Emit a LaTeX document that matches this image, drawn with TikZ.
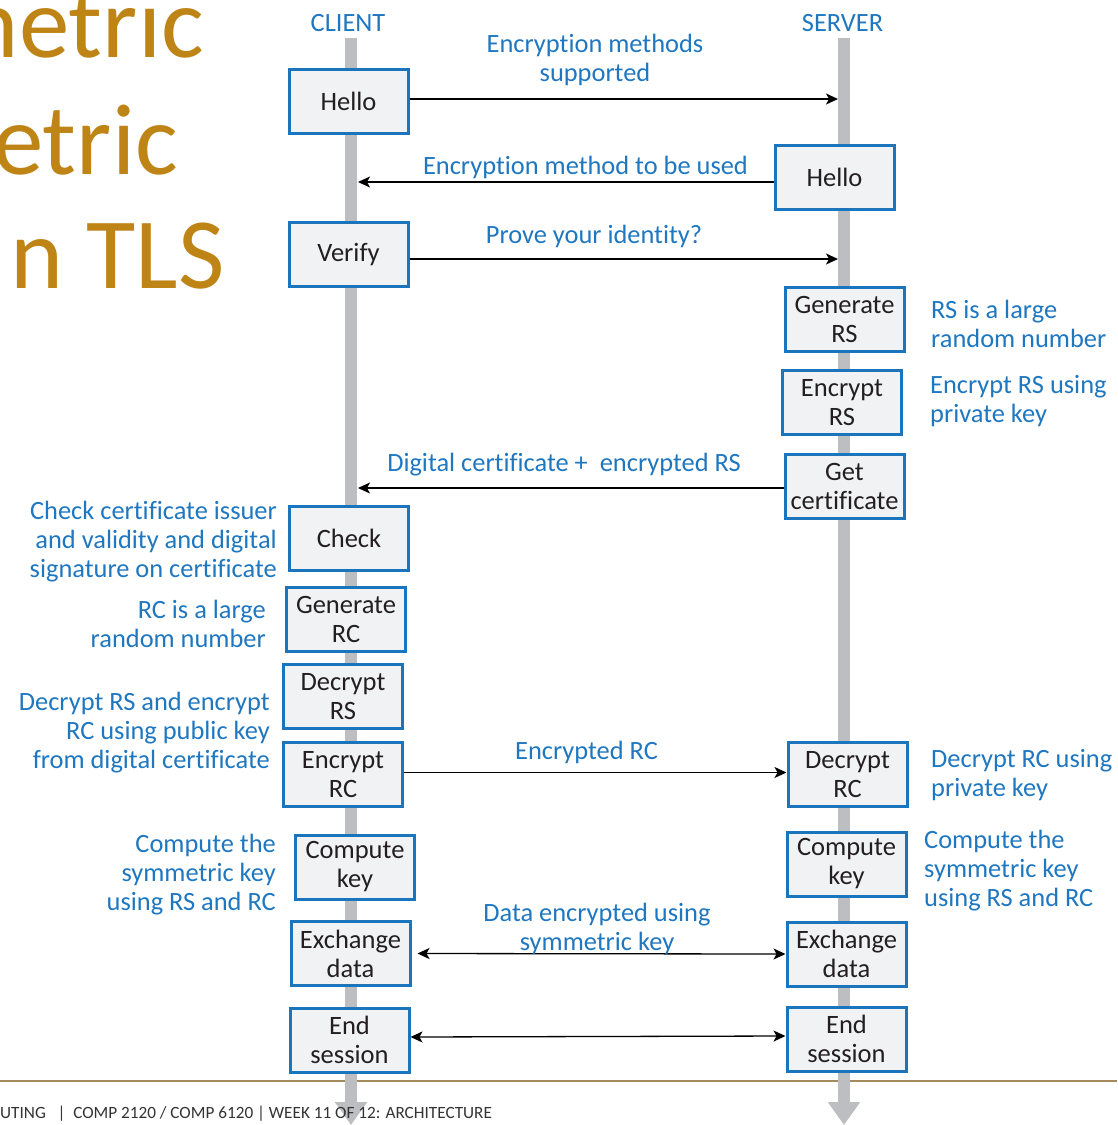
\documentclass[tikz,border=0pt]{standalone}
\usepackage{fontspec}
\setmainfont{Carlito}[Ligatures=CommonOff]
\usetikzlibrary{arrows.meta}
\definecolor{boxblue}{HTML}{1B75BC}
\definecolor{boxfill}{HTML}{F1F2F4}
\definecolor{labelblue}{HTML}{1F77C0}
\definecolor{titlegold}{HTML}{BF8416}
\definecolor{lifegray}{HTML}{BDBEC1}
\definecolor{rulebrown}{HTML}{A58A5C}
\definecolor{inkdark}{HTML}{231F20}
\definecolor{footgray}{HTML}{333333}

\begin{document}
\begin{tikzpicture}[x=1pt,y=-1pt,
  stepbox/.style={draw=boxblue, line width=3pt, fill=boxfill,
    minimum width=119pt, minimum height=64pt, inner sep=0pt,
    align=center, text=inkdark, font=\fontsize{26.5}{29}\selectfont},
  msg/.style={text=labelblue, font=\fontsize{26.4}{29}\selectfont,
    align=center, inner sep=0pt},
  notel/.style={msg, align=left, anchor=west},
  noter/.style={msg, align=right, anchor=east},
  flow/.style={line width=1.3pt, -{Stealth[length=12pt,width=11pt,inset=3pt]}},
  flowboth/.style={line width=1.3pt,
    {Stealth[length=12pt,width=11pt,inset=3pt]}-{Stealth[length=12pt,width=11pt,inset=3pt]}},
  lifeline/.style={draw=lifegray, line width=12pt,
    -{Triangle[length=23pt,width=31pt]}},
  heading/.style={text=titlegold, font=\fontsize{101}{116}\selectfont,
    inner sep=0pt, anchor=base east},
]
\useasboundingbox (0,0) rectangle (1117,1125);

% slide heading, running off the left edge
\node[heading] (h1) at (204,57) {metric};
\node[heading] (h2) at (178,174) {etric};
\node[heading] (h3) at (225,288) {n TLS};

% footer rule
\coordinate (ruleL) at (0,1081);
\coordinate (ruleR) at (1117,1081);
\draw[rulebrown, line width=2pt] (ruleL) -- (ruleR);

% lifelines
\node[msg] (client) at (348,23) {CLIENT};
\node[msg] (server) at (842.5,23) {SERVER};
\coordinate (ctop) at (351,38);
\coordinate (cbot) at (351,1125);
\coordinate (stop) at (844,38);
\coordinate (sbot) at (844,1125);
\draw[lifeline] (ctop) -- (cbot);
\draw[lifeline] (stop) -- (sbot);

% footer text, set over the lifeline tips
\node[anchor=base west, inner sep=0pt, text=footgray,
  font=\fontsize{17.2}{20}\selectfont] (foot) at (0,1118)
  {UTING \ \ |\ \ COMP 2120 / COMP 6120 | WEEK 11 OF 12: ARCHITECTURE};

% client steps
\node[stepbox] (chello) at (348.5,101) {Hello};
\node[stepbox] (verify) at (348.5,254.5) {Verify};
\node[stepbox] (check) at (349,538.5) {Check};
\node[stepbox] (genrc) at (346,619.5) {Generate\\RC};
\node[stepbox] (decrs) at (343,696.5) {Decrypt\\RS};
\node[stepbox] (encrc) at (343,774.5) {Encrypt\\RC};
\node[stepbox] (ckeyc) at (355,867) {Compute\\key};
\node[stepbox] (exc) at (350.5,953.5) {Exchange\\data};
\node[stepbox] (endc) at (349.5,1040) {End\\session};

% server steps
\node[stepbox] (shello) at (834.5,177) {Hello};
\node[stepbox] (genrs) at (844.5,319) {Generate\\RS};
\node[stepbox] (encrs) at (842,402.5) {Encrypt\\RS};
\node[stepbox] (getcert) at (844.5,486.5) {Get\\certificate};
\node[stepbox] (decrc) at (847.5,774.5) {Decrypt\\RC};
\node[stepbox] (ckeys) at (846.5,864) {Compute\\key};
\node[stepbox] (exs) at (846.5,954) {Exchange\\data};
\node[stepbox] (ends) at (846.5,1039) {End\\session};

% messages
\coordinate (s1) at (838,99);
\draw[flow] (chello.east |- s1) -- (s1);
\coordinate (c2) at (358,182);
\draw[flow] (shello.west |- c2) -- (c2);
\coordinate (s3) at (838,259);
\draw[flow] (verify.east |- s3) -- (s3);
\coordinate (c4) at (358,488);
\draw[flow] (getcert.west |- c4) -- (c4);
\draw[flow] ([yshift=2pt]encrc.east) -- ([yshift=2pt]decrc.west);
\draw[flowboth, shorten <=6pt] (exc.east) -- (exs.west);
\draw[flowboth] ([yshift=3pt]endc.east) -- ([yshift=3pt]ends.west);

% message labels
\node[msg] (m1) at (595,60) {Encryption methods\\supported};
\node[msg] (m2) at (585.5,167) {Encryption method to be used};
\node[msg] (m3) at (594,236) {Prove your identity?};
\node[msg] (m4) at (564,465) {Digital certificate + \ encrypted RS};
\node[msg] (m5) at (586.5,752) {Encrypted RC};
\node[msg] (m6) at (597,928.5) {Data encrypted using\\symmetric key};

% side notes
\node[notel] (n1) at (931,324) {RS is a large\\random number};
\node[notel] (n2) at (930,401.5) {Encrypt RS using\\private key};
\node[notel] (n3) at (931,775) {Decrypt RC using\\private key};
\node[notel] (n4) at (924,871) {Compute the\\symmetric key\\using RS and RC};
\node[noter] (n5) at (277,542) {Check certificate issuer\\and validity and digital\\signature on certificate};
\node[noter] (n6) at (266,624) {RC is a large\\random number};
\node[noter] (n7) at (270,733) {Decrypt RS and encrypt\\RC using public key\\from digital certificate};
\node[noter] (n8) at (276,874.5) {Compute the\\symmetric key\\using RS and RC};
\end{tikzpicture}
\end{document}
